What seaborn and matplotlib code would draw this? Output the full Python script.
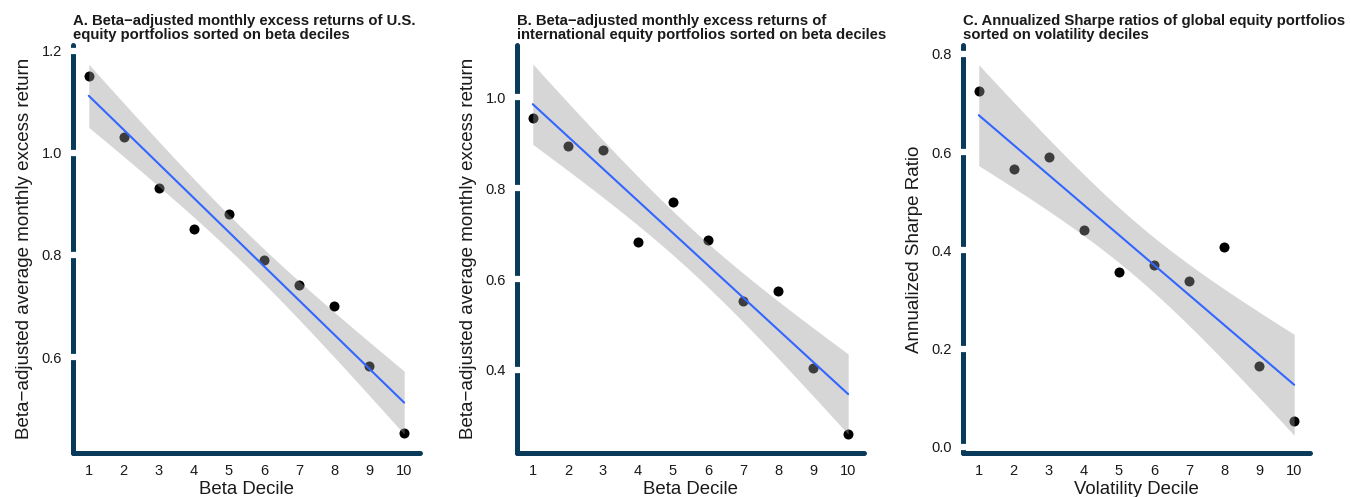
import matplotlib
matplotlib.use("Agg")
import matplotlib.pyplot as plt
import numpy as np
import pandas as pd
import seaborn as sns
from matplotlib.ticker import FormatStrFormatter

sns.set_theme(style="white")
plt.rcParams["font.family"] = ["Liberation Sans", "DejaVu Sans"]

# %%
deciles = list(range(1, 11))
us_beta_adj = [1.151, 1.031, 0.932, 0.851, 0.881, 0.791, 0.741, 0.701, 0.582, 0.452]
intl_beta_adj = [0.954, 0.893, 0.884, 0.682, 0.770, 0.685, 0.552, 0.574, 0.404, 0.260]
global_sharpe = [0.724, 0.565, 0.589, 0.442, 0.356, 0.370, 0.338, 0.406, 0.165, 0.052]

titles = [
    "A. Beta\u2212adjusted monthly excess returns of U.S.\nequity portfolios sorted on beta deciles",
    "B. Beta\u2212adjusted monthly excess returns of\ninternational equity portfolios sorted on beta deciles",
    "C. Annualized Sharpe ratios of global equity portfolios\nsorted on volatility deciles",
]
xlabels = ["Beta Decile", "Beta Decile", "Volatility Decile"]
ylabels = [
    "Beta\u2212adjusted average monthly excess return",
    "Beta\u2212adjusted average monthly excess return",
    "Annualized Sharpe Ratio",
]
yticks = [[0.6, 0.8, 1.0, 1.2], [0.4, 0.6, 0.8, 1.0], [0.0, 0.2, 0.4, 0.6, 0.8]]
ylims = [(0.413, 1.211), (0.218, 1.115), (-0.012, 0.818)]
series = [us_beta_adj, intl_beta_adj, global_sharpe]

NAVY = "#093a5a"
TEXT = "#1a1a1a"
T_975_DF8 = 2.306  # t quantile for 95% band, n=10


# %%
def lm_band(x, y, n_points=80):
    """Linear fit with a 95% confidence band (like geom_smooth(method='lm'))."""
    x = np.asarray(x, float)
    y = np.asarray(y, float)
    n = len(x)
    slope, intercept = np.polyfit(x, y, 1)
    resid = y - (intercept + slope * x)
    s = np.sqrt(np.sum(resid**2) / (n - 2))
    xs = np.linspace(x.min(), x.max(), n_points)
    fit = intercept + slope * xs
    se = s * np.sqrt(1 / n + (xs - x.mean()) ** 2 / np.sum((x - x.mean()) ** 2))
    return xs, fit, fit - T_975_DF8 * se, fit + T_975_DF8 * se


# %%
fig = plt.figure(figsize=(13.51, 4.97), dpi=100)
lefts = [0.05403, 0.38268, 0.7128]

for i, vals in enumerate(series):
    ax = fig.add_axes([lefts[i], 0.0891, 0.2568, 0.8204])
    df = pd.DataFrame({"decile": deciles, "value": vals})

    sns.scatterplot(data=df, x="decile", y="value", color="black", s=52, linewidth=0, zorder=2, ax=ax)
    xs, fit, lo, hi = lm_band(df["decile"], df["value"])
    ax.fill_between(xs, lo, hi, color="#999999", alpha=0.4, linewidth=0, zorder=3)
    sns.lineplot(x=xs, y=fit, color="#3366FF", linewidth=1.5, zorder=4, ax=ax)

    ax.set_xlim(0.55, 10.45)
    ax.set_ylim(*ylims[i])
    ax.set_xticks(deciles)
    ax.set_yticks(yticks[i])
    ax.yaxis.set_major_formatter(FormatStrFormatter("%.1f"))

    for side in ["top", "right"]:
        ax.spines[side].set_visible(False)
    for side in ["left", "bottom"]:
        ax.spines[side].set_color(NAVY)
        ax.spines[side].set_linewidth(3.6)
        ax.spines[side].set_capstyle("round")
        ax.spines[side].set_zorder(1.0)
    ax.set_axisbelow(False)

    # white ticks cut gaps into the thick axis line
    ax.tick_params(axis="y", left=True, direction="inout", length=6, width=4.5, color="white", pad=5,
                   labelsize=10.5, labelcolor=TEXT)
    ax.tick_params(axis="x", bottom=False, length=0, pad=8, labelsize=10.5, labelcolor=TEXT)

    ax.set_xlabel(xlabels[i], fontsize=13.4, labelpad=2, color=TEXT)
    ax.set_ylabel(ylabels[i], fontsize=13.5, labelpad=6, color=TEXT)
    ax.set_title(titles[i], loc="left", fontsize=10.7, fontweight="bold", pad=4, color=TEXT,
                 linespacing=1.02)

fig.savefig("out.png", dpi=100)
